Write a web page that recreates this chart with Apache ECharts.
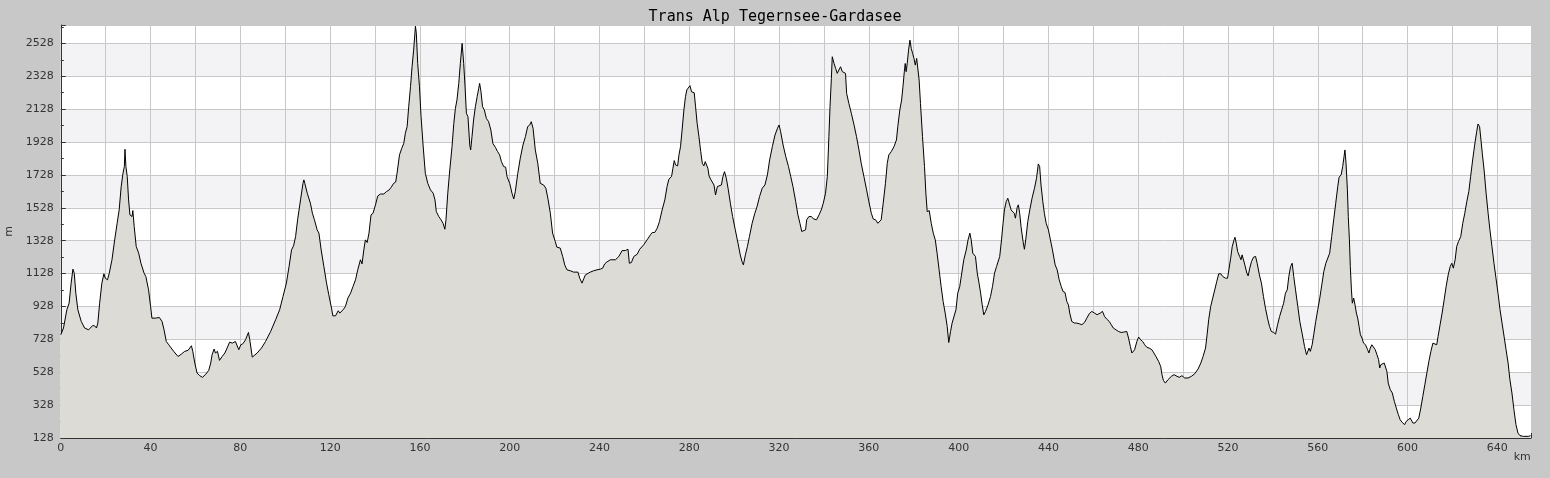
<!DOCTYPE html>
<html>
<head>
<meta charset="utf-8">
<script src="https://cdn.jsdelivr.net/npm/echarts@6/dist/echarts.min.js"></script>
<style>
html,body{margin:0;padding:0;background:#c8c8c8;}
#chart{width:1550px;height:478px;}
</style>
</head>
<body>
<div id="chart"></div>
<script>
const chartTitle = 'Trans Alp Tegernsee-Gardasee';
const xAxisName = 'km';
const yAxisName = 'm';
const yTickStart = 128;
const yTickStep = 200;
const xTickStep = 20;
const xLabelStep = 40;

const distanceKm = [
0,1.2,2.7,3.7,4.6,5.4,6.0,6.7,7.6,9.1,10.6,12.4,13.1,14.1,15.0,15.9,16.5,17.3,18.3,19.2,19.8,20.8,21.6,22.8,24.0,25.1,26.0,26.9,27.7,28.3,28.6,29.0,29.6,30.2,30.8,31.7,32.1,32.7,33.6,34.7,35.7,37.1,37.9,39.1,40.0,40.6,42.1,43.9,45.1,46.0,47.0,48.1,50.3,52.2,53.7,55.2,56.7,58.2,58.8,59.7,60.7,61.9,63.1,64.4,65.9,66.8,67.4,68.3,68.9,69.8,70.7,71.9,73.1,74.1,75.2,76.4,77.8,78.6,79.3,80.2,81.1,82.3,83.0,83.6,84.2,85.3,86.0,87.5,89.4,91.2,93.5,95.7,97.5,99.0,100.5,101.7,102.8,103.7,104.6,105.5,106.8,107.9,
108.3,108.7,109.8,111.2,112.1,113.0,114.2,115.0,116.0,117.2,118.4,119.4,120.6,121.2,122.4,123.6,124.3,125.8,126.8,127.9,129.1,130.2,131.3,132.3,133.5,134.2,135.0,135.7,136.5,137.3,138.2,139.1,140.2,141.2,142.4,143.9,145.1,146.3,147.2,148.3,149.2,149.8,150.9,151.9,152.8,153.5,154.3,155.0,155.8,156.5,157.2,158.0,158.4,159.0,159.8,160.5,161.4,162.4,163.5,164.7,165.9,166.7,167.3,168.4,169.4,170.3,171.1,171.6,172.4,173.3,174.3,175.1,175.8,176.5,177.3,178.0,178.8,179.5,180.1,180.7,181.4,182.2,182.6,183.2,183.9,184.7,185.5,186.2,186.6,187.2,187.9,188.7,189.6,190.6,191.6,192.5,193.6,194.6,195.5,196.3,197.3,198.2,198.8,200.0,201.0,201.8,202.5,203.6,204.7,205.9,207.0,208.0,208.9,209.6,210.4,211.4,212.5,213.6,215.1,216.1,217.0,
218.1,219.1,220.3,221.0,222.5,223.6,224.5,225.5,227.0,228.5,230.4,231.2,232.2,232.9,233.7,234.4,235.9,237.4,238.9,240.4,241.4,242.3,243.4,244.9,247.1,248.6,250.1,250.5,251.5,252.7,253.3,254.2,255.3,256.8,257.9,259.7,261.2,262.7,263.5,264.6,265.7,266.7,267.9,269.1,270.1,270.9,272.1,272.7,273.3,273.9,274.8,275.4,276.1,276.8,277.6,278.3,278.9,279.5,280.3,281.0,281.6,282.2,282.8,283.5,284.3,285.1,285.8,286.5,287.1,287.7,288.3,288.8,289.5,290.2,291.0,291.7,292.5,293.2,294.3,295.0,295.7,296.5,297.4,298.3,299.3,300.5,301.7,302.7,303.5,304.1,305.0,305.9,306.8,308.0,309.2,310.2,311.3,312.5,313.7,314.8,315.8,317.0,318.2,319.3,320.0,320.7,321.8,323.0,324.2,325.2,326.2,
327.4,328.4,329.3,330.1,330.8,331.8,332.3,333.3,334.4,335.3,335.8,336.7,337.8,338.8,339.7,340.7,341.5,342.2,342.7,343.3,343.7,344.2,344.5,345.2,345.9,346.7,347.4,348.2,348.9,349.6,350.1,351.1,352.2,353.4,354.5,355.6,356.6,357.8,359.0,360.0,361.1,362.0,363.0,364.0,364.8,365.5,366.4,367.4,368.2,368.9,370.0,371.2,372.3,372.9,373.8,374.6,375.2,375.8,376.2,376.6,377.1,377.7,378.3,378.9,379.5,380.1,380.7,381.3,381.9,382.4,383.0,383.9,384.8,385.4,386.0,386.9,387.8,388.7,389.6,390.4,391.3,392.2,393.1,394.0,394.9,395.6,396.4,397.1,397.9,398.8,399.6,400.5,401.4,402.3,403.4,404.2,405.0,405.6,406.3,407.5,408.3,409.1,409.8,410.5,411.2,412.0,413.1,414.2,415.1,416.0,416.9,417.7,418.3,419.1,419.8,420.4,421.2,421.9,422.6,423.4,424.1,424.8,425.3,426.1,426.6,427.2,427.8,428.7,429.3,429.9,430.8,431.7,432.7,433.8,434.7,
435.5,436.1,436.7,437.5,438.2,439.0,440.0,440.9,441.8,443.0,443.9,444.8,445.7,446.5,447.4,448.2,448.9,449.5,450.4,451.6,452.6,453.7,454.9,456.1,457.1,458.2,459.3,460.5,461.7,463.1,464.1,465.0,466.0,467.1,468.0,468.9,470.1,471.2,472.4,473.5,474.9,475.7,476.5,477.2,477.6,478.4,479.4,480.2,481.1,482.0,482.9,483.9,484.9,486.1,487.0,487.9,489.1,490.0,490.6,491.2,492.1,493.3,494.8,496.0,497.3,498.3,499.5,500.7,502.2,503.7,505.2,506.7,507.9,508.9,510.0,510.7,511.4,512.3,513.2,514.1,515.0,515.9,516.8,517.7,518.9,519.8,520.4,521.2,521.9,522.7,523.1,523.7,524.3,525.2,525.8,526.3,526.9,527.5,528.4,529.0,529.7,530.5,531.4,532.3,533.0,534.0,534.9,535.8,536.7,537.6,538.5,539.3,540.3,541.2,542.1,543.0,543.9,544.8,
545.6,546.4,547.1,547.9,548.6,549.3,550.1,551.1,552.0,553.0,554.1,555.0,555.6,556.1,556.7,557.5,558.2,559.1,560.0,560.9,561.8,562.7,563.6,564.4,565.3,566.2,567.1,568.0,568.9,569.5,570.4,571.1,571.7,572.1,572.6,573.2,573.6,574.1,574.5,575.0,575.4,576.0,576.6,577.2,577.8,578.4,579.0,579.7,580.4,581.3,582.2,582.8,583.4,584.1,584.9,585.6,586.4,587.1,587.6,588.1,588.7,589.6,590.2,590.8,591.4,592.3,593.2,594.1,595.0,595.9,596.7,597.6,598.7,599.4,600.3,601.2,601.8,602.4,603.3,604.1,605.0,605.9,606.8,607.7,608.6,609.5,610.4,611.3,612.1,613.0,613.6,614.5,615.4,616.3,617.2,618.1,619.0,619.7,620.4,621.2,621.9,622.7,623.7,624.6,625.5,626.4,627.3,628.1,629.0,629.9,630.8,631.4,632.1,632.7,633.3,634.1,635.0,635.9,636.7,637.6,638.5,639.4,640.3,641.2,642.1,643.0,643.9,644.8,645.6,646.5,647.4,648.3,649.2,650.1,651.6,653.8,654.8
];

const elevationM = [
756,797,908,948,1070,1155,1130,1009,908,837,797,786,782,811,811,797,827,948,1070,1127,1100,1090,1131,1212,1333,1434,1515,1657,1738,1779,1884,1779,1718,1576,1485,1475,1511,1414,1293,1252,1191,1131,1110,1029,928,857,857,861,837,786,715,695,655,624,638,655,661,689,655,584,523,507,497,513,539,584,634,669,645,655,600,624,645,675,711,705,715,709,665,695,701,725,736,770,725,620,614,645,675,715,776,847,908,989,1070,1171,1272,1297,1353,1455,1576,1677,
1698,1677,1617,1556,1495,1455,1394,1374,1272,1171,1070,999,918,871,871,902,888,908,928,979,1009,1050,1090,1151,1212,1187,1272,1333,1317,1374,1485,1495,1546,1600,1612,1612,1627,1637,1653,1677,1685,1738,1850,1890,1920,1981,2022,2143,2265,2386,2487,2633,2589,2406,2265,2082,1910,1738,1677,1637,1617,1576,1505,1475,1455,1434,1398,1455,1617,1758,1900,2042,2133,2184,2285,2406,2528,2406,2265,2103,2082,1910,1880,1961,2062,2143,2204,2255,2285,2234,2143,2123,2072,2052,2001,1920,1896,1870,1850,1809,1779,1775,1718,1677,1617,1582,1627,1738,1829,1910,1961,2022,2032,2052,2012,1880,1799,1677,1667,1647,1586,
1495,1374,1323,1289,1283,1232,1181,1151,1145,1137,1137,1100,1070,1080,1120,1131,1137,1145,1151,1155,1161,1187,1200,1212,1212,1232,1268,1256,1268,1276,1191,1195,1232,1246,1276,1303,1333,1364,1378,1378,1404,1444,1515,1576,1657,1702,1718,1768,1815,1789,1783,1850,1900,2001,2123,2204,2245,2234,2271,2234,2245,2228,2143,2042,1961,1870,1799,1783,1809,1819,1768,1722,1702,1694,1667,1606,1657,1667,1667,1718,1748,1708,1637,1556,1475,1394,1313,1242,1201,1181,1242,1293,1353,1434,1495,1536,1596,1647,1667,1728,1819,1900,1971,2012,2032,1991,1910,1839,1779,1718,1657,
1566,1485,1434,1384,1374,1394,1455,1475,1475,1461,1465,1455,1485,1515,1556,1617,1718,1961,2143,2315,2447,2457,2406,2376,2346,2336,2386,2356,2356,2346,2224,2163,2103,2032,1961,1880,1799,1718,1637,1566,1495,1459,1455,1434,1424,1455,1556,1677,1799,1850,1870,1900,1941,2022,2123,2184,2265,2356,2406,2356,2406,2487,2548,2497,2467,2437,2396,2437,2431,2305,2163,1961,1779,1617,1505,1511,1434,1374,1333,1252,1151,1050,958,888,807,709,776,827,837,908,1009,1050,1131,1212,1272,1333,1374,1333,1252,1232,1131,1070,1009,938,877,898,938,989,1050,1131,1171,1167,1232,1333,1434,1515,1566,1586,1576,1515,1525,1495,1465,1531,1546,1495,1414,1323,1276,1333,1444,1515,1586,1647,1708,
1795,1779,1667,1566,1495,1434,1394,1333,1272,1181,1151,1090,1050,1019,1013,958,938,888,837,827,827,823,817,831,857,884,898,888,878,888,898,867,851,837,817,797,786,776,770,772,776,736,685,645,634,665,715,742,725,715,695,679,675,665,645,624,594,564,513,479,462,483,503,513,503,497,507,493,493,503,519,548,584,624,675,756,847,928,979,1029,1080,1127,1127,1110,1100,1100,1151,1222,1293,1333,1349,1313,1262,1232,1212,1242,1232,1181,1131,1114,1161,1202,1228,1232,1191,1120,1070,989,918,857,807,776,770,760,817,867,908,948,
1009,1029,1110,1171,1191,1110,1029,928,837,766,685,634,624,675,655,695,756,837,908,979,1060,1141,1191,1181,1252,1353,1455,1556,1657,1714,1728,1779,1839,1880,1799,1637,1475,1333,1171,1029,948,979,938,888,857,807,756,736,705,695,665,645,675,695,689,665,634,604,554,574,564,584,574,533,462,422,402,351,310,270,239,223,209,229,239,249,255,219,219,229,249,310,381,452,523,594,655,705,715,695,746,817,888,968,1050,1120,1171,1191,1161,1212,1293,1323,1353,1434,1495,1566,1627,1718,1819,1910,1991,2038,2022,1941,1860,1758,1617,1495,1394,1293,1191,1100,1009,908,827,746,665,584,483,402,300,209,158,142,138,138,142
];

const xMax = 655;
const yMax = 2640;

const profile = distanceKm.map((d, i) => [d, elevationM[i]]);

const chart = echarts.init(document.getElementById('chart'), null, {renderer: 'canvas'});
const labelFont = {fontFamily: 'DejaVu Sans', fontSize: 11, color: '#333333'};

chart.setOption({
  backgroundColor: '#c8c8c8',
  animation: false,
  title: {
    text: chartTitle,
    left: 'center',
    top: 5,
    textStyle: {fontFamily: 'DejaVu Sans Mono', fontSize: 15, fontWeight: 'normal', color: '#000000'}
  },
  grid: {
    left: 60.8, right: 19, top: 25, bottom: 40,
    containLabel: false,
    outerBoundsMode: 'none',
    show: true, backgroundColor: '#ffffff', borderWidth: 0
  },
  xAxis: {
    type: 'value',
    min: 0, max: xMax, interval: xTickStep,
    name: xAxisName,
    nameLocation: 'end',
    nameGap: -1,
    nameTextStyle: {fontFamily: 'DejaVu Sans', fontSize: 11, color: '#333333', align: 'right', verticalAlign: 'top', padding: [14, 0, 0, 0]},
    axisLine: {show: true, onZero: false, lineStyle: {color: '#333333', width: 1}},
    axisTick: {show: true, inside: true, length: 5, lineStyle: {color: '#333333'}},
    minorTick: {show: true, splitNumber: 2, length: 3, lineStyle: {color: '#333333'}},
    axisLabel: Object.assign({
      margin: 5,
      showMaxLabel: false,
      formatter: v => (v % xLabelStep === 0 ? String(v) : '')
    }, labelFont),
    splitLine: {show: true, lineStyle: {color: '#c8c8c8', width: 1}}
  },
  yAxis: {
    type: 'value',
    min: yTickStart, max: yMax, interval: yTickStep,
    name: yAxisName,
    nameLocation: 'middle',
    nameGap: 46,
    nameRotate: 90,
    nameTextStyle: {fontFamily: 'DejaVu Sans', fontSize: 11, color: '#333333'},
    axisLine: {show: true, onZero: false, lineStyle: {color: '#333333', width: 1}},
    axisTick: {show: true, inside: true, length: 5, lineStyle: {color: '#333333'}},
    minorTick: {show: true, splitNumber: 2, length: 3, lineStyle: {color: '#333333'}},
    axisLabel: Object.assign({
      margin: 7,
      showMaxLabel: false,
      formatter: v => ((v - yTickStart) % yTickStep === 0 ? String(v) : '')
    }, labelFont),
    splitLine: {show: true, lineStyle: {color: '#c8c8c8', width: 1}},
    splitArea: {show: true, areaStyle: {color: ['#ffffff', '#f3f2f5']}}
  },
  series: [{
    type: 'line',
    data: profile,
    symbol: 'none',
    smooth: false,
    lineStyle: {color: '#000000', width: 1},
    areaStyle: {color: '#dcdbd6', opacity: 1, origin: 'start'},
    z: 3
  }]
});
</script>
</body>
</html>
